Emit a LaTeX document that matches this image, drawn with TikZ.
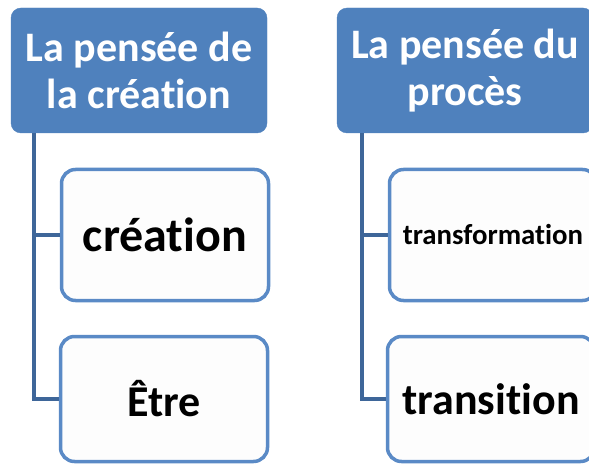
\documentclass[tikz,border=0pt]{standalone}
\usepackage{fontspec}
\setmainfont{Carlito}[RawFeature={-liga;-clig;-dlig}]
\definecolor{hdrblue}{HTML}{4F81BD}
\definecolor{boxblue}{HTML}{5A8AC6}
\definecolor{linkblue}{HTML}{3E6699}
\definecolor{boxfill}{HTML}{FDFDFD}
\begin{document}
\begin{tikzpicture}[x=1pt,y=-1pt,
  hdr/.style={draw=hdrblue, fill=hdrblue, rounded corners=10pt, minimum width=256pt, minimum height=125pt,
    text=white, font=\fontsize{42}{47}\selectfont\bfseries, align=center, inner sep=0pt},
  child/.style={draw=boxblue, line width=3.5pt, fill=boxfill, rounded corners=14pt, minimum width=207pt,
    minimum height=131pt, text=black, inner sep=0pt},
  link/.style={draw=linkblue, line width=4.5pt}]
\useasboundingbox (0,0) rectangle (589,465);
\clip (0,0) rectangle (589,465);
\node[hdr] (hL) at (139,70.5) {La pensée de\\la création};
\node[hdr] (hR) at (465,70.5) {La pensée du\\procès};
\node[child, font=\fontsize{48}{52}\selectfont\bfseries] (cL1) at (165,235) {création};
\node[child, minimum height=125pt, font=\fontsize{44}{50}\selectfont\bfseries] (cL2) at (164,399) {Être};
\node[child, font=\fontsize{28.8}{32}\selectfont\bfseries] (cR1) at (493,235) {transformation};
\node[child, minimum height=125pt, font=\fontsize{44}{50}\selectfont\bfseries] (cR2) at (491,399) {transition};
\draw[link] ([xshift=23pt]hL.south west) |- (cL1.west);
\draw[link] ([xshift=23pt]hL.south west) |- (cL2.west);
\draw[link] ([xshift=25pt]hR.south west) |- (cR1.west);
\draw[link] ([xshift=25pt]hR.south west) |- (cR2.west);
\end{tikzpicture}
\end{document}
